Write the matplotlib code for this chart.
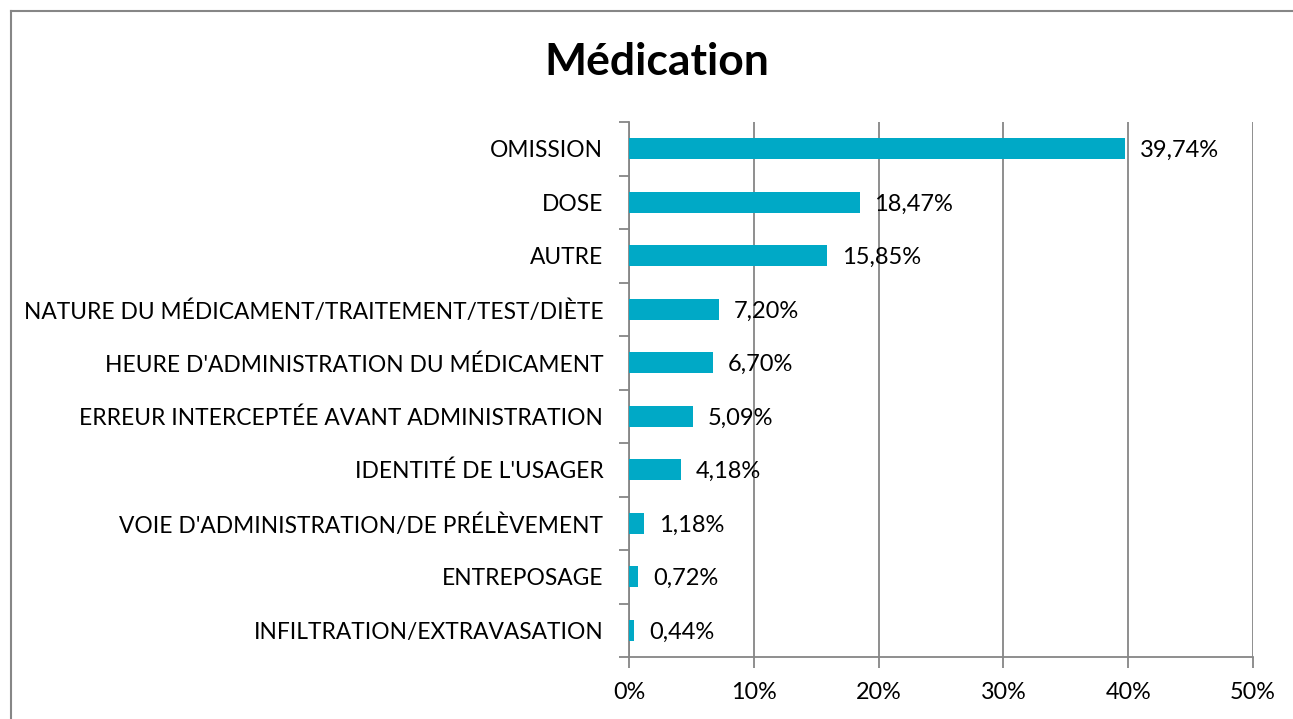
import matplotlib.pyplot as plt
from matplotlib.lines import Line2D

# Catégories (du haut vers le bas) et pourcentages
categories = [
    'OMISSION',
    'DOSE',
    'AUTRE',
    'NATURE DU MÉDICAMENT/TRAITEMENT/TEST/DIÈTE',
    "HEURE D'ADMINISTRATION DU MÉDICAMENT",
    'ERREUR INTERCEPTÉE AVANT ADMINISTRATION',
    "IDENTITÉ DE L'USAGER",
    "VOIE D'ADMINISTRATION/DE PRÉLÈVEMENT",
    'ENTREPOSAGE',
    'INFILTRATION/EXTRAVASATION',
]
pourcentages = [39.74, 18.47, 15.85, 7.20, 6.70, 5.09, 4.18, 1.18, 0.72, 0.44]
xticks = [0, 10, 20, 30, 40, 50]

plt.rcParams['font.family'] = ['Lato', 'DejaVu Sans']

fig = plt.figure(figsize=(12.93, 7.19), dpi=100)
ax = fig.add_axes([629 / 1293, 1 - 657 / 719, 624 / 1293, 535 / 719])

# cadre du graphique (seuls les bords gauche et haut sont visibles)
fx, fy = 10.5 / 1293, 1 - 10.5 / 719
fig.lines.append(Line2D([fx, fx], [0, fy], transform=fig.transFigure, color='#868686', linewidth=1.5))
fig.lines.append(Line2D([fx, 1], [fy, fy], transform=fig.transFigure, color='#868686', linewidth=1.5))

y = list(range(len(categories)))[::-1]
ax.barh(y, pourcentages, height=0.4, color='#00A9C6', zorder=3)

for yi, v in zip(y, pourcentages):
    ax.text(v + 1.2, yi - 0.03, f'{v:.2f}%'.replace('.', ','), va='center', ha='left',
            fontsize=17, color='#000000', zorder=4)

ax.set_xlim(0, 50)
ax.set_ylim(-0.5, len(categories) - 0.5)
ax.set_xticks(xticks)
ax.set_xticklabels([f'{t}%' for t in xticks], fontsize=16.8)
ax.set_yticks(y)
ax.set_yticklabels(categories, fontsize=16.4)
ax.set_yticks([i - 0.5 for i in range(len(categories) + 1)], minor=True)

ax.tick_params(axis='y', which='major', length=0, pad=18.5)
ax.tick_params(axis='y', which='minor', length=7, color='#868686', width=1.3, direction='out')
ax.tick_params(axis='x', length=8, color='#868686', width=1.3, direction='out', pad=10)

ax.grid(True, axis='x', color='#868686', linewidth=1.3, zorder=0)
for s in ['top', 'right']:
    ax.spines[s].set_visible(False)
for s in ['left', 'bottom']:
    ax.spines[s].set_color('#868686')
    ax.spines[s].set_linewidth(1.3)

fig.text(657 / 1293, 1 - 62 / 719, 'Médication', ha='center', va='center',
         fontsize=32, fontweight='bold')

fig.savefig('out.png', dpi=100)
